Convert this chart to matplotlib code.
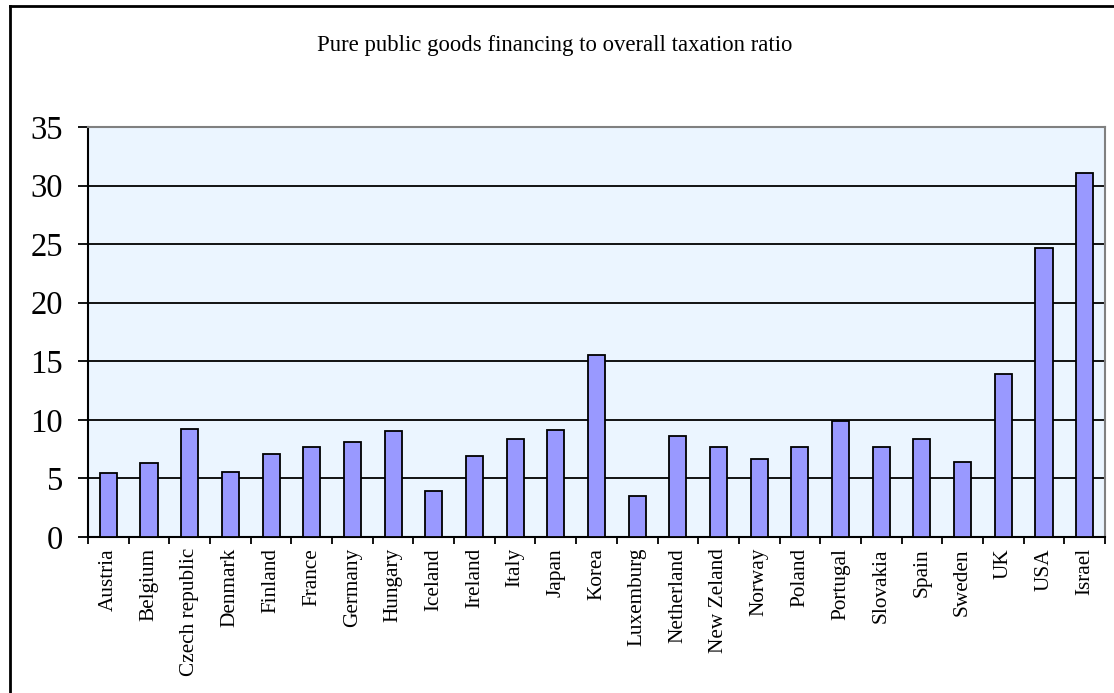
import matplotlib
matplotlib.use("Agg")
import matplotlib.pyplot as plt
from matplotlib.lines import Line2D
import numpy as np

countries = ["Austria", "Belgium", "Czech republic", "Denmark", "Finland", "France",
             "Germany", "Hungary", "Iceland", "Ireland", "Italy", "Japan", "Korea",
             "Luxemburg", "Netherland", "New Zeland", "Norway", "Poland", "Portugal",
             "Slovakia", "Spain", "Sweden", "UK", "USA", "Israel"]
values = [5.44, 6.29, 9.2, 5.58, 7.12, 7.66, 8.08, 9.05, 3.93, 6.94, 8.34, 9.17, 15.54,
          3.5, 8.62, 7.66, 6.69, 7.66, 9.9, 7.66, 8.34, 6.43, 13.89, 24.68, 31.06]
yticks = [0, 5, 10, 15, 20, 25, 30, 35]
title = "Pure public goods financing to overall taxation ratio"

plt.rcParams['font.family'] = ['Liberation Serif', 'DejaVu Serif']

W, H = 1114, 693
fig = plt.figure(figsize=(W / 100, H / 100), dpi=100)

# outer chart border (left and top visible)
fig.add_artist(Line2D([10 / W, 10 / W], [0, 1 - 6 / H], transform=fig.transFigure,
                      color='black', lw=2))
fig.add_artist(Line2D([10 / W, 1], [1 - 6 / H, 1 - 6 / H], transform=fig.transFigure,
                      color='black', lw=2))

ax = fig.add_axes([88 / W, 1 - 537 / H, (1105 - 88) / W, (537 - 127) / H])
ax.set_facecolor('#EBF5FF')

x = np.arange(len(countries))
ax.bar(x, values, width=0.42, color='#9999FF', edgecolor='black', linewidth=1.3, zorder=3)

ax.set_xlim(-0.5, len(countries) - 0.5)
ax.set_ylim(0, 35)

for yv in yticks[1:-1]:
    ax.axhline(yv, color='black', lw=1.3, zorder=2)

ax.set_yticks(yticks)
ax.set_yticklabels([str(v) for v in yticks], fontsize=23.5)
ax.tick_params(axis='y', direction='out', length=7, width=1.3, pad=11)

ax.set_xticks(x)
ax.set_xticklabels(countries, rotation=90, fontsize=15.3, ha='center', va='top')
ax.tick_params(axis='x', which='major', length=0, pad=8)
ax.set_xticks(np.arange(-0.5, len(countries), 1.0), minor=True)
ax.tick_params(axis='x', which='minor', direction='out', length=5, width=1.3)

for s in ['left', 'bottom']:
    ax.spines[s].set_color('black')
    ax.spines[s].set_linewidth(1.5)
for s in ['top', 'right']:
    ax.spines[s].set_color('#808080')
    ax.spines[s].set_linewidth(1.5)

fig.text(555 / W, 1 - 45 / H, title, ha='center', va='center', fontsize=16.4)

fig.savefig('out.png', dpi=100, facecolor='white')
